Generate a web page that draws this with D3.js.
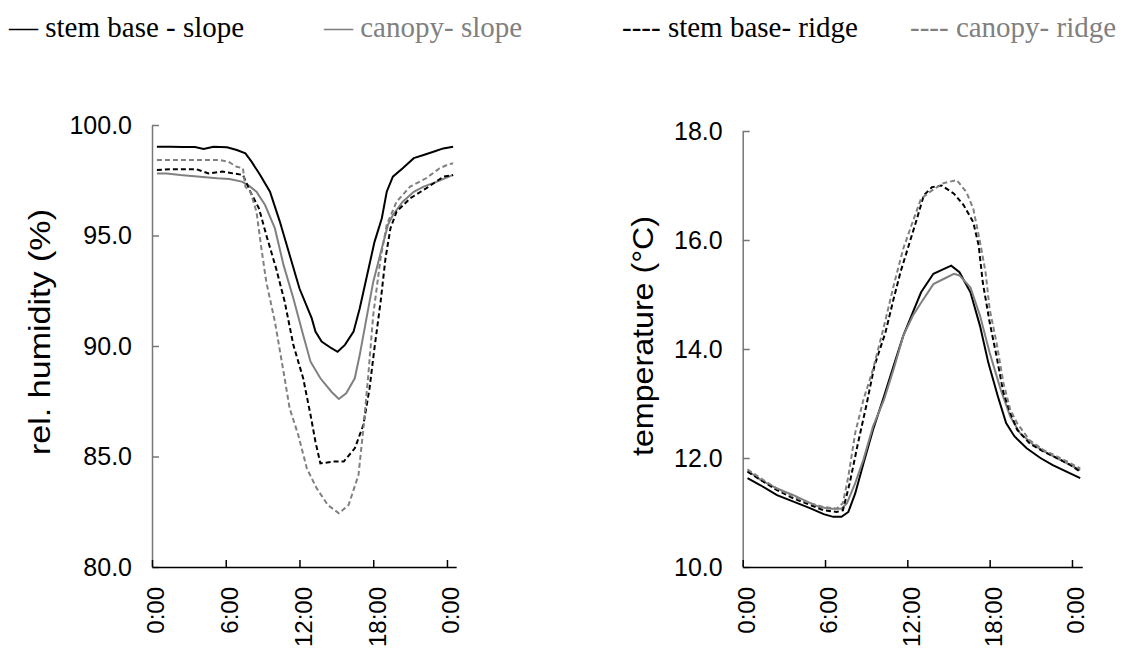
<!DOCTYPE html>
<html lang="en">
<head>
    <meta charset="UTF-8">
    <title>Humidity and temperature</title>
    <script src="https://d3js.org/d3.v7.min.js"></script>
    <style>
        body { margin: 0; background: #fff; }
    </style>
</head>
<body>
<script type="text/javascript">
    // [hour of day, value]
    var rhStemSlope = [[0.4, 99.02], [1.5, 99.02], [2.5, 99.0], [3.5, 99.0], [4.2, 98.92], [5.0, 99.02], [6.1, 98.99],
        [6.9, 98.87], [7.6, 98.72], [8.1, 98.34], [8.8, 97.74], [9.6, 96.98], [10.4, 95.63], [11.2, 94.12], [12.0, 92.6],
        [13.0, 91.25], [13.3, 90.65], [13.8, 90.2], [14.6, 89.9], [15.1, 89.74], [15.7, 90.05], [16.4, 90.65],
        [16.9, 91.7], [17.5, 93.2], [18.1, 94.7], [18.7, 95.78], [19.1, 96.98], [19.6, 97.66], [20.4, 98.04],
        [21.3, 98.5], [22.1, 98.64], [22.9, 98.79], [23.7, 98.94], [24.5, 99.02]];
    var rhCanopySlope = [[0.4, 97.81], [1.2, 97.81], [2.3, 97.74], [3.9, 97.66], [5.3, 97.59], [6.3, 97.56],
        [7.3, 97.44], [7.8, 97.29], [8.5, 96.98], [9.2, 96.38], [10.0, 95.32], [10.7, 93.67], [11.5, 92.16],
        [12.3, 90.5], [12.9, 89.29], [13.7, 88.54], [14.6, 87.93], [15.2, 87.6], [15.8, 87.86], [16.5, 88.54],
        [16.9, 89.59], [17.5, 91.4], [18.0, 92.9], [18.7, 94.42], [19.2, 95.48], [19.6, 95.93], [20.4, 96.53],
        [21.3, 96.98], [22.1, 97.21], [23.2, 97.44], [24.5, 97.74]];
    var rhStemRidge = [[0.4, 97.96], [1.5, 98.0], [3.6, 98.0], [4.6, 97.81], [5.7, 97.89], [6.6, 97.81], [7.4, 97.74],
        [8.0, 96.98], [8.7, 96.23], [9.3, 95.02], [10.1, 93.51], [10.8, 92.0], [11.5, 90.05], [12.3, 88.54],
        [12.9, 86.88], [13.3, 85.67], [13.7, 84.69], [14.8, 84.77], [15.6, 84.77], [16.5, 85.37], [17.2, 86.43],
        [17.7, 88.08], [18.1, 89.9], [18.6, 92.0], [19.0, 93.97], [19.4, 95.32], [19.9, 96.08], [21.0, 96.68],
        [22.3, 97.13], [23.7, 97.66], [24.5, 97.74]];
    var rhCanopyRidge = [[0.4, 98.42], [2.0, 98.42], [4.0, 98.42], [5.5, 98.42], [6.2, 98.34], [6.9, 98.11],
        [7.4, 98.04], [7.6, 97.2], [8.0, 96.98], [8.5, 96.08], [8.9, 94.42], [9.3, 92.9], [10.0, 91.1], [10.7, 88.84],
        [11.2, 87.18], [11.9, 85.97], [12.6, 84.46], [13.4, 83.56], [14.3, 82.81], [15.2, 82.43], [16.0, 82.81],
        [16.8, 84.16], [17.2, 86.27], [17.6, 88.69], [18.0, 91.4], [18.6, 93.97], [19.1, 95.48], [19.9, 96.53],
        [21.0, 97.21], [22.3, 97.59], [23.4, 98.04], [24.0, 98.19], [24.5, 98.27]];

    var tStemSlope = [[0.35, 11.63], [1.3, 11.5], [2.5, 11.32], [3.7, 11.2], [4.9, 11.08], [5.9, 10.97], [6.6, 10.92],
        [7.2, 10.92], [7.7, 11.01], [8.2, 11.35], [8.8, 11.9], [9.5, 12.52], [10.3, 13.13], [11.0, 13.69],
        [11.7, 14.24], [12.4, 14.67], [13.0, 15.04], [13.9, 15.38], [14.6, 15.46], [15.2, 15.53], [15.8, 15.41],
        [16.6, 15.04], [17.3, 14.42], [17.9, 13.75], [18.6, 13.13], [19.2, 12.64], [19.8, 12.4], [20.7, 12.18],
        [21.7, 12.0], [22.6, 11.87], [23.6, 11.75], [24.6, 11.63]];
    var tCanopySlope = [[0.35, 11.77], [1.3, 11.6], [2.5, 11.44], [3.7, 11.32], [4.7, 11.2], [5.6, 11.1],
        [6.4, 11.07], [7.2, 11.07], [7.6, 11.17], [8.2, 11.54], [8.8, 11.97], [9.5, 12.58], [10.3, 13.07],
        [11.0, 13.63], [11.7, 14.24], [12.4, 14.61], [13.0, 14.85], [13.9, 15.19], [14.6, 15.28], [15.4, 15.38],
        [15.8, 15.35], [16.6, 15.13], [17.3, 14.61], [18.0, 13.93], [18.8, 13.26], [19.5, 12.76], [20.2, 12.46],
        [21.2, 12.24], [22.2, 12.09], [23.1, 11.97], [24.6, 11.78]];
    var tStemRidge = [[0.35, 11.75], [1.3, 11.6], [2.5, 11.41], [3.7, 11.26], [4.9, 11.14], [5.9, 11.04],
        [6.85, 11.01], [7.3, 11.04], [7.8, 11.54], [8.4, 12.27], [9.0, 12.95], [9.6, 13.69], [10.4, 14.3],
        [11.0, 14.92], [11.5, 15.41], [12.1, 15.9], [12.7, 16.39], [13.2, 16.82], [13.8, 16.97], [14.5, 17.0],
        [15.4, 16.85], [16.1, 16.64], [16.8, 16.33], [17.2, 15.9], [17.5, 15.22], [18.0, 14.49], [18.5, 13.87],
        [19.0, 13.2], [19.5, 12.83], [20.0, 12.52], [20.9, 12.27], [21.9, 12.12], [22.9, 12.0], [23.9, 11.87],
        [24.6, 11.75]];
    var tCanopyRidge = [[0.35, 11.79], [1.3, 11.63], [2.5, 11.44], [3.7, 11.29], [4.9, 11.17], [5.9, 11.1],
        [6.85, 11.07], [7.3, 11.17], [7.7, 11.66], [8.2, 12.46], [8.8, 13.07], [9.5, 13.63], [10.3, 14.42],
        [11.0, 15.16], [11.7, 15.84], [12.3, 16.27], [13.0, 16.76], [13.8, 16.91], [14.6, 17.04], [15.6, 17.1],
        [16.3, 16.88], [16.8, 16.58], [17.3, 15.96], [17.7, 15.41], [18.0, 14.73], [18.5, 14.12], [19.0, 13.38],
        [19.5, 12.89], [20.0, 12.64], [20.9, 12.33], [21.9, 12.15], [22.9, 12.03], [23.9, 11.9], [24.6, 11.81]];

    var hourTicks = [0, 6, 12, 18, 24];
    var hourLabels = ["0:00", "6:00", "12:00", "18:00", "0:00"];
    var rhTicks = [80, 85, 90, 95, 100];
    var tempTicks = [10, 12, 14, 16, 18];

    var seriesNames = ["stem base - slope", "canopy- slope", "stem base- ridge", "canopy- ridge"];
    var seriesMarks = ["\u2014", "\u2014", "----", "----"];

    var gray = "#808080";
    var styles = [
        {color: "#000", dash: null},
        {color: gray, dash: null},
        {color: "#000", dash: "5,3"},
        {color: gray, dash: "5,3"}
    ];

    var sans = "'Liberation Sans', Arial, sans-serif";

    var svg = d3.select("body").append("svg")
        .attr("width", 1123)
        .attr("height", 648);

    // legend row
    var legendX = [9, 324, 622, 910];
    svg.selectAll("text.legend")
        .data(seriesNames)
        .enter()
        .append("text")
        .attr("class", "legend")
        .attr("x", function (d, i) { return legendX[i]; })
        .attr("y", 37)
        .attr("font-family", "'Liberation Serif', 'Times New Roman', serif")
        .attr("font-size", "29px")
        .attr("fill", function (d, i) { return styles[i].color; })
        .text(function (d, i) { return seriesMarks[i] + " " + d; });

    var drawPanel = function (opts) {
        var x = d3.scaleLinear().domain([0, 24.75]).range([opts.left, opts.right]);
        var y = d3.scaleLinear().domain(opts.yDomain).range([567, opts.top]);

        var g = svg.append("g");

        var line = d3.line()
            .x(function (d) { return x(d[0]); })
            .y(function (d) { return y(d[1]); });

        g.selectAll("path.series")
            .data(opts.series)
            .enter()
            .append("path")
            .attr("class", "series")
            .attr("d", line)
            .attr("fill", "none")
            .attr("stroke", function (d, i) { return styles[i].color; })
            .attr("stroke-width", 2)
            .attr("stroke-dasharray", function (d, i) { return styles[i].dash; });

        var yAxis = d3.axisLeft(y)
            .tickValues(opts.yTicks)
            .tickSizeInner(-7)
            .tickSizeOuter(0)
            .tickPadding(20)
            .tickFormat(d3.format(".1f"));
        var ya = g.append("g")
            .attr("transform", "translate(" + opts.left + ",0)")
            .call(yAxis);
        ya.select(".domain").attr("stroke", "#777").attr("stroke-width", 1.5);
        ya.selectAll(".tick line").attr("stroke", "#777").attr("stroke-width", 1.5);
        ya.selectAll(".tick text")
            .attr("font-family", sans)
            .attr("font-size", "25px")
            .attr("fill", "#000");

        var xAxis = d3.axisBottom(x)
            .tickValues(hourTicks)
            .tickSizeInner(-7)
            .tickSizeOuter(0)
            .tickFormat("");
        var xa = g.append("g")
            .attr("transform", "translate(0,567)")
            .call(xAxis);
        xa.select(".domain").attr("stroke", "#000").attr("stroke-width", 1.5);
        xa.selectAll(".tick line").attr("stroke", "#000").attr("stroke-width", 1.5);

        g.selectAll("text.hour")
            .data(hourTicks)
            .enter()
            .append("text")
            .attr("class", "hour")
            .attr("transform", function (d) {
                return "translate(" + (x(d) + 4) + ",587) rotate(-90)";
            })
            .attr("dy", "0.35em")
            .attr("text-anchor", "end")
            .attr("font-family", sans)
            .attr("font-size", "24px")
            .text(function (d, i) { return hourLabels[i]; });

        g.append("text")
            .attr("transform", "translate(" + opts.titleX + "," + opts.titleY + ") rotate(-90)")
            .attr("text-anchor", "middle")
            .attr("dy", "0.35em")
            .attr("font-family", sans)
            .attr("font-size", "30px")
            .attr("textLength", opts.titleLength)
            .attr("lengthAdjust", "spacingAndGlyphs")
            .text(opts.title);
    };

    drawPanel({
        left: 152, right: 152 + 24.75 * 12.29, top: 125,
        yDomain: [80, 100], yTicks: rhTicks,
        series: [rhStemSlope, rhCanopySlope, rhStemRidge, rhCanopyRidge],
        title: "rel. humidity (%)", titleX: 39, titleY: 332, titleLength: 246
    });

    drawPanel({
        left: 742.7, right: 742.7 + 24.75 * 13.72, top: 131,
        yDomain: [10, 18], yTicks: tempTicks,
        series: [tStemSlope, tCanopySlope, tStemRidge, tCanopyRidge],
        title: "temperature (\u00b0C)", titleX: 642, titleY: 336, titleLength: 240
    });
</script>
</body>
</html>
